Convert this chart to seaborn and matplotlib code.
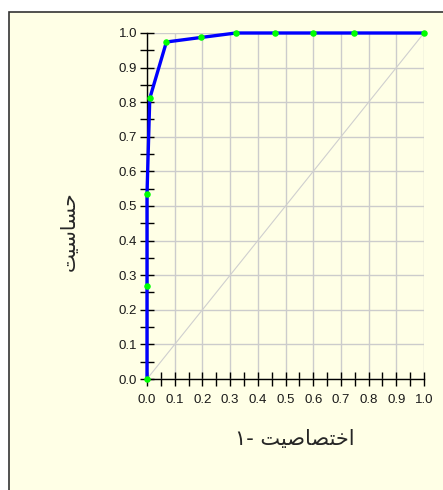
import numpy as np
import pandas as pd
import matplotlib
matplotlib.use("Agg")
import matplotlib.pyplot as plt
from matplotlib.patches import Rectangle
from matplotlib.ticker import MultipleLocator
import seaborn as sns

# داده های منحنی ROC (خوانده شده از تصویر)
fpr = [0.0, 0.0, 0.0, 0.01, 0.07, 0.194, 0.321, 0.461, 0.60, 0.746, 1.0]
tpr = [0.0, 0.27, 0.535, 0.811, 0.974, 0.987, 1.0, 1.0, 1.0, 1.0, 1.0]
ticks = [0.0, 0.1, 0.2, 0.3, 0.4, 0.5, 0.6, 0.7, 0.8, 0.9, 1.0]
tick_labels = ["0.0", "0.1", "0.2", "0.3", "0.4", "0.5", "0.6", "0.7", "0.8", "0.9", "1.0"]

# برچسب ها (شکل های نمایشی عربی، ترتیب دیداری)
ylab = "\ufe96\ufbff\ufeb3\ufe8e\ufeb4\ufea3"          # حساسیت
xlab = "\u06f1- \ufe96\ufbff\ufebb\ufe8e\ufebc\ufe98\ufea7\ufe8d"  # ۱- اختصاصیت

dados = pd.DataFrame({"fpr": fpr, "tpr": tpr})

sns.set_style("white")
plt.rcParams["font.family"] = ["Liberation Sans", "DejaVu Sans"]
bg = "#ffffe6"

fig = plt.figure(figsize=(4.43, 4.90), dpi=100)
fig.patch.set_facecolor("white")
fig.patches.append(Rectangle((9 / 443, -0.05), 1.1, (490 - 12) / 490 + 0.05,
                             transform=fig.transFigure, facecolor=bg,
                             edgecolor="#333333", linewidth=1.2, zorder=-10))

ax = fig.add_axes([147 / 443, (490 - 379) / 490, 277 / 443, 346 / 490])
ax.set_zorder(1)
ax.set_facecolor(bg)

# خط قطری
ax.plot([0, 1], [0, 1], color="#cfcfcf", linewidth=0.8, zorder=1)

sns.lineplot(data=dados, x="fpr", y="tpr", estimator=None, sort=False,
             color="#0000ff", linewidth=2.4, ax=ax, zorder=3, clip_on=False)
sns.scatterplot(data=dados, x="fpr", y="tpr", color="#00ff00", s=22,
                linewidth=0, ax=ax, zorder=4, clip_on=False)

ax.set_xlim(0, 1)
ax.set_ylim(0, 1)
ax.set_xticks(ticks)
ax.set_xticklabels(tick_labels)
ax.set_yticks(ticks)
ax.set_yticklabels(tick_labels)
ax.xaxis.set_minor_locator(MultipleLocator(0.05))
ax.yaxis.set_minor_locator(MultipleLocator(0.05))
ax.tick_params(which="both", direction="inout", length=10, width=1,
               color="black", bottom=True, left=True,
               labelsize=9.5, labelcolor="#1a1a1a")
ax.tick_params(axis="x", pad=6)
ax.tick_params(axis="y", pad=2)
ax.grid(True, which="major", color="#cccccc", linewidth=1)
ax.set_axisbelow(True)
for s in ["top", "right"]:
    ax.spines[s].set_visible(False)
for s in ["left", "bottom"]:
    ax.spines[s].set_color("black")
    ax.spines[s].set_linewidth(1)
    ax.spines[s].set_zorder(2)
ax.set_xlabel("")
ax.set_ylabel("")

fig.text(295 / 443, 1 - 439 / 490, xlab, family=["DejaVu Sans"], fontsize=15,
         ha="center", va="center")
fig.text(69 / 443, 1 - 231 / 490, ylab, family=["DejaVu Sans"], fontsize=14.5,
         ha="center", va="center", rotation=90)

fig.savefig("out.png", dpi=100, facecolor=fig.get_facecolor())
